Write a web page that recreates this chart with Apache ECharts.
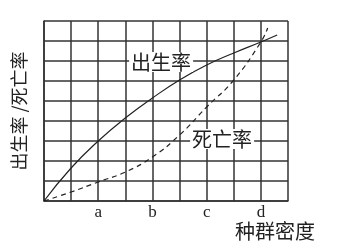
<!DOCTYPE html>
<html><head><meta charset="utf-8">
<script src="https://cdn.jsdelivr.net/npm/echarts@6/dist/echarts.min.js"></script>
<style>html,body{margin:0;padding:0;background:#fff}#c{width:341px;height:249px}</style>
</head><body><div id="c"></div>
<script>
const xTickLabels = ['', '', 'a', '', 'b', '', 'c', '', 'd', ''];
const birthX = [0, 1, 2, 3, 4, 5, 6, 7, 8, 8.6];
const birthY = [0, 1.65, 3.0, 4.15, 5.15, 6.05, 6.8, 7.4, 7.95, 8.3];
const deathX = [0, 1, 2, 3, 4, 5, 6, 7, 8, 8.25];
const deathY = [0, 0.45, 0.95, 1.45, 2.2, 3.3, 4.7, 6.05, 7.95, 8.65];
const seriesNames = ['出生率', '死亡率'];
const yName = '出生率 /死亡率';
const xName = '种群密度';

const zip = (a, b) => a.map((v, i) => [v, b[i]]);
const chart = echarts.init(document.getElementById('c'));
const cjk = '"Noto Sans CJK SC", sans-serif';
const axisCommon = {
  type: 'value', min: 0, max: 9, interval: 1,
  axisLine: { show: true, lineStyle: { color: '#333', width: 1.5 } },
  axisTick: { show: false },
  splitLine: { show: true, lineStyle: { color: '#333', width: 1.5 } }
};
chart.setOption({
  animation: false,
  grid: { left: 44, right: 53, top: 21, bottom: 48 },
  xAxis: Object.assign({}, axisCommon, {
    axisLabel: { formatter: v => xTickLabels[v] || '', color: '#222', fontFamily: 'Liberation Serif', fontSize: 17, margin: 3 }
  }),
  yAxis: Object.assign({}, axisCommon, {
    axisLabel: { show: false },
    name: yName, nameLocation: 'middle', nameRotate: 90, nameGap: 16,
    nameTextStyle: { fontFamily: cjk, fontSize: 18, color: '#222' }
  }),
  graphic: [{ type: 'text', left: 235, top: 221, style: { text: xName, font: '20px "Noto Sans CJK SC"', fill: '#222' } }],
  series: [
    { name: seriesNames[0], type: 'line', smooth: true, showSymbol: false, data: zip(birthX, birthY),
      lineStyle: { color: '#222', width: 1.2 },
      markPoint: { symbolSize: 0, data: [{ coord: [4.32, 6.95], value: seriesNames[0] }],
        label: { show: true, formatter: seriesNames[0], fontFamily: cjk, fontSize: 20, color: '#222', backgroundColor: '#fff', padding: [0, 2] } } },
    { name: seriesNames[1], type: 'line', smooth: true, showSymbol: false, data: zip(deathX, deathY),
      lineStyle: { color: '#222', width: 1.2, type: [5, 4] },
      markPoint: { symbolSize: 0, data: [{ coord: [6.57, 3.1], value: seriesNames[1] }],
        label: { show: true, formatter: seriesNames[1], fontFamily: cjk, fontSize: 20, color: '#222', backgroundColor: '#fff', padding: [0, 2] } } }
  ]
});
</script></body></html>
